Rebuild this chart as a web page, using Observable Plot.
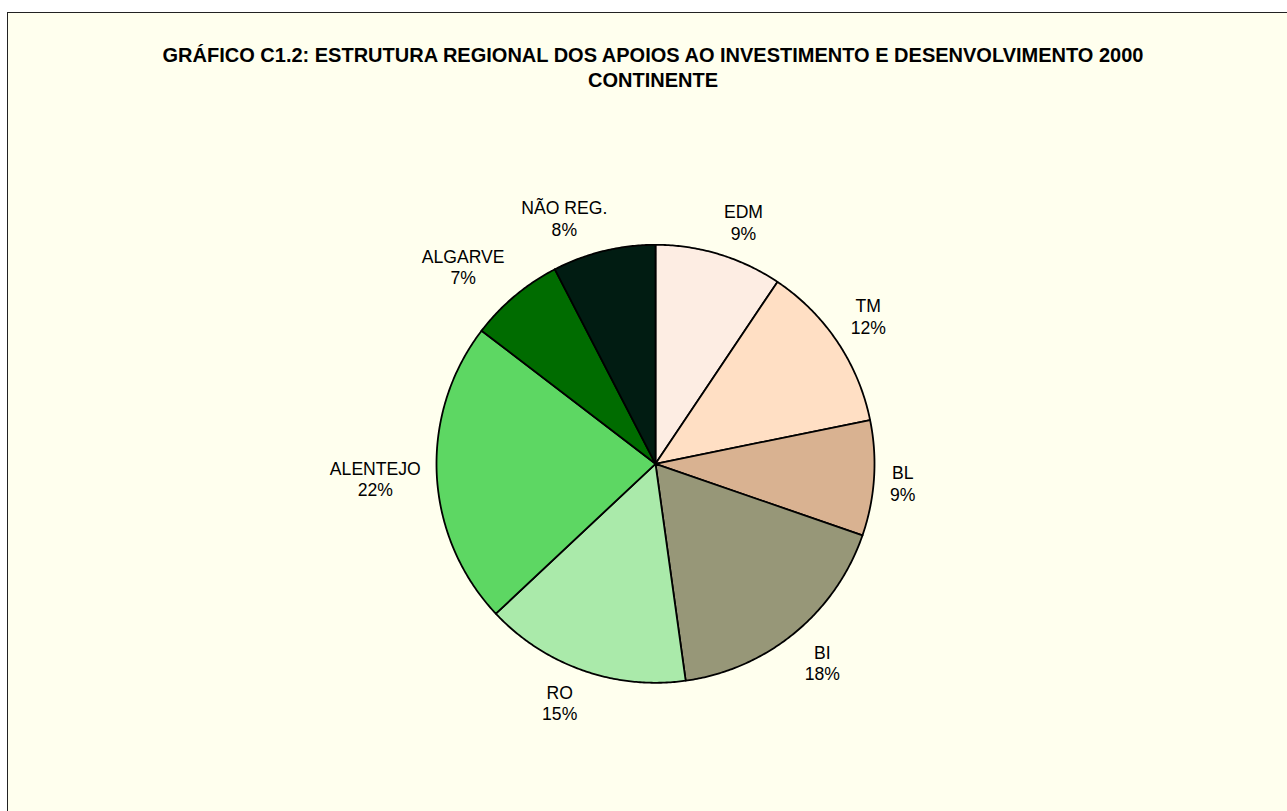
<!DOCTYPE html>
<html><head><meta charset="utf-8">
<script src="https://cdn.jsdelivr.net/npm/d3@7"></script>
<script src="https://cdn.jsdelivr.net/npm/@observablehq/plot@0.6"></script>
<style>
html,body{margin:0;padding:0;background:#fff;overflow:hidden;width:1287px;height:811px;}
#frame{position:absolute;left:7px;top:12px;width:1292px;height:810px;box-sizing:border-box;border:1px solid #222;background:#FFFFEE;}
#title{margin:0;padding-top:30px;height:49px;font-family:"Liberation Sans",Arial,sans-serif;font-weight:bold;font-size:20px;line-height:24.7px;text-align:center;color:#000;white-space:nowrap;}
#chart svg{display:block;}
</style></head><body>
<div id="frame">
<div id="title">GRÁFICO C1.2: ESTRUTURA REGIONAL DOS APOIOS AO INVESTIMENTO E DESENVOLVIMENTO 2000<br>CONTINENTE</div>
<div id="chart"></div>
</div>
<script>
// Data (shares in %, clockwise from 12 o'clock)
const regions = ["EDM", "TM", "BL", "BI", "RO", "ALENTEJO", "ALGARVE", "NÃO REG."];
const shares = [9.4, 12.4, 8.5, 17.5, 15.2, 22.4, 7.0, 7.6];
const colors = ["#FDEDE3", "#FFDFC4", "#D9B291", "#979778", "#AAEAAA", "#5DD763", "#006C00", "#011C12"];

// Layout
const W = 1290, H = 719;
const cx = 647, cy = 371.3, R = 219;
const fontSize = 17.6, lineH = 1.23, labelRadius = R + 16, k = 3.5;
const font = `${fontSize}px "Liberation Sans", Arial, sans-serif`;

const data = regions.map((r, i) => ({region: r, value: shares[i], color: colors[i]}));
const total = d3.sum(shares);
const arcs = d3.pie().sort(null).value(d => d.value)(data);

const ctx = document.createElement("canvas").getContext("2d");
ctx.font = font;
const clamp = v => Math.max(-1, Math.min(1, v));

const marks = [];
const labels = [];
for (const p of arcs) {
  const pts = [{x: 0, y: 0}];
  const n = Math.max(2, Math.ceil((p.endAngle - p.startAngle) / (Math.PI / 360)));
  for (let i = 0; i <= n; i++) {
    const a = p.startAngle + (p.endAngle - p.startAngle) * i / n;
    pts.push({x: Math.sin(a), y: -Math.cos(a)});
  }
  pts.push({x: 0, y: 0});
  marks.push(Plot.line(pts, {x: "x", y: "y", fill: p.data.color, stroke: "#000", strokeWidth: 1.8, strokeLinejoin: "round"}));

  const pct = Math.round(p.data.value / total * 100 + 1e-9) + "%";
  const text = p.data.region + "\n" + pct;
  const w = Math.max(ctx.measureText(p.data.region).width, ctx.measureText(pct).width) / 2;
  const h = (0.716 + lineH) * fontSize / 2;
  const a = (p.startAngle + p.endAngle) / 2;
  const ux = Math.sin(a), uy = -Math.cos(a);
  const px = ux * labelRadius + clamp(k * ux) * w;
  const py = uy * labelRadius + clamp(k * uy) * h;
  labels.push({x: px / R, y: py / R, text});
}

marks.push(Plot.text(labels, {
  x: "x", y: "y", text: "text",
  fontSize, lineHeight: lineH, textAnchor: "middle", lineAnchor: "middle",
  fill: "#000", fontFamily: '"Liberation Sans", Arial, sans-serif'
}));

const chart = Plot.plot({
  width: W, height: H, margin: 0,
  x: {domain: [-cx / R, (W - cx) / R], range: [0, W], axis: null},
  y: {domain: [-cy / R, (H - cy) / R], range: [0, H], axis: null},
  style: {background: "transparent", fontFamily: '"Liberation Sans", Arial, sans-serif', overflow: "visible"},
  marks
});
document.getElementById("chart").appendChild(chart);
</script>
</body></html>
